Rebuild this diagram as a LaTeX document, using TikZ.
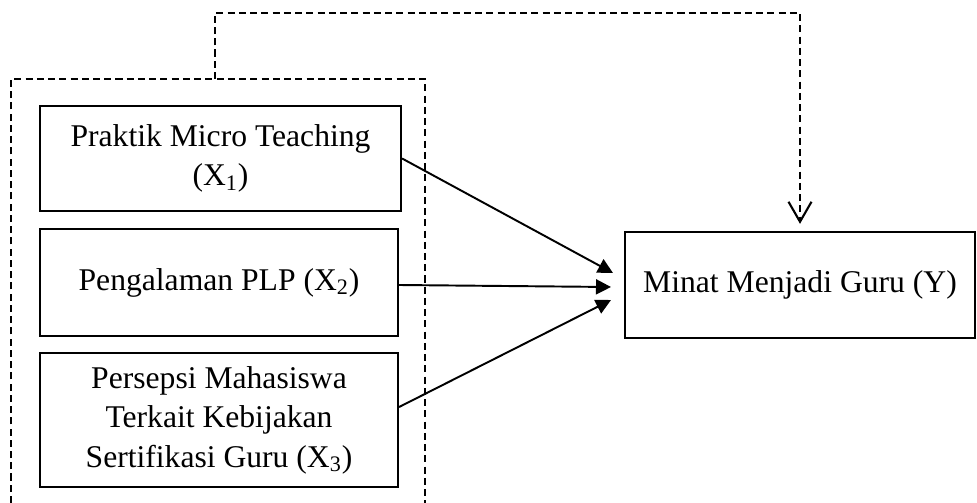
\documentclass[tikz,border=0pt]{standalone}
\usepackage{fontspec}
\setmainfont{Liberation Serif}
\usetikzlibrary{arrows.meta}

\begin{document}
\begin{tikzpicture}[x=0.02cm,y=-0.02cm,
	var/.style={draw,line width=1.3pt,align=center,inner sep=0pt,font=\fontsize{18}{22.5}\selectfont},
	grp/.style={line width=1.2pt,dash pattern=on 4pt off 2.4pt},
	arr/.style={line width=1.1pt,-{Triangle[length=0.3cm,width=0.3cm]}}]
	\useasboundingbox (0,0) rectangle (977,503);

	% dashed group round the X variables
	\draw[grp] (11,503) -- (11,79) -- (425,79) -- (425,503);
	\coordinate (grptop) at (215,79);

	\node[var,minimum width=7.22cm,minimum height=2.1cm] (x1) at (220.5,158.5) {Praktik Micro Teaching\\(X\textsubscript{1})};
	\node[var,minimum width=7.16cm,minimum height=2.14cm] (x2) at (219,282.5) {Pengalaman PLP (X\textsubscript{2})};
	\node[var,minimum width=7.16cm,minimum height=2.68cm] (x3) at (219,420) {Persepsi Mahasiswa\\Terkait Kebijakan\\Sertifikasi Guru (X\textsubscript{3})};
	\node[var,minimum width=7cm,minimum height=2.12cm] (y) at (800,285) {Minat Menjadi Guru (Y)};

	\coordinate (t1) at (613,273);
	\coordinate (t2) at (611,287);
	\coordinate (t3) at (611,300);

	\draw[arr] (x1.east) -- (t1);
	\draw[arr] ([yshift=-0.05cm]x2.east) -- (t2);
	\draw[arr] ([yshift=0.26cm]x3.east) -- (t3);

	% simultaneous effect
	\draw[grp,-{Straight Barb[length=0.4cm,width=0.46cm]},shorten >=0.14cm] (grptop) -- ++(0,-66) -| (y.north);
\end{tikzpicture}
\end{document}
